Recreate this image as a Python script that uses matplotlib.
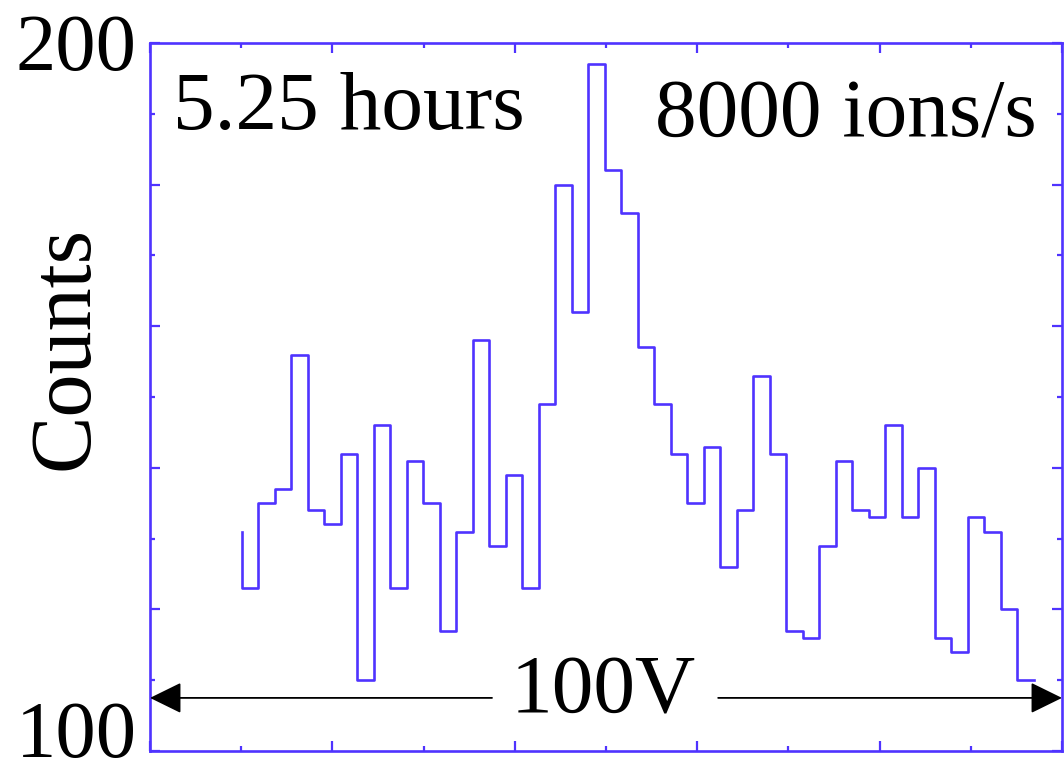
import numpy as np
import matplotlib
matplotlib.use("Agg")
import matplotlib.pyplot as plt
from matplotlib.ticker import MultipleLocator

# ---- data ----
bin_start = 10.05      # V, first bin edge
bin_width = 1.809      # V
counts = [131,
          123, 135, 137, 156, 134, 132, 142, 110, 146, 123, 141, 135,
          117, 131, 158, 129, 139, 123, 149, 180, 162, 197, 182, 176,
          157, 149, 142, 135, 143, 126, 134, 153, 142, 117, 116, 129,
          141, 134, 133, 146, 133, 140, 116, 114, 133, 131, 120, 110]
y_labels = ["100", "200"]
label_time = "5.25 hours"
label_rate = "8000 ions/s"
label_span = "100V"
ylabel = "Counts"

edges = bin_start + bin_width * np.arange(len(counts))

blue = "#4f33ff"
plt.rcParams['font.family'] = ['Liberation Serif', 'DejaVu Serif']

fig = plt.figure(figsize=(10.64, 7.73), dpi=100)
ax = fig.add_axes([150/1064, 1-751/773, 912/1064, 708/773])

ax.step(edges, counts, where='pre', color=blue, lw=1.9)

ax.set_xlim(0, 100)
ax.set_ylim(100, 200)

for s in ax.spines.values():
    s.set_color(blue)
    s.set_linewidth(1.9)

ax.xaxis.set_major_locator(MultipleLocator(20))
ax.xaxis.set_minor_locator(MultipleLocator(10))
ax.yaxis.set_major_locator(MultipleLocator(20))
ax.yaxis.set_minor_locator(MultipleLocator(10))
ax.tick_params(which='both', direction='in', colors=blue, top=True, right=True,
               labelbottom=False, labelleft=False, width=1.6)
ax.tick_params(which='major', length=7)
ax.tick_params(which='minor', length=3.5)

# y end labels (placed like the reference)
ax.text(-0.0143, (751-70)/708, y_labels[1], transform=ax.transAxes,
        ha='right', va='baseline', fontsize=58)
ax.text(-0.0143, (751-757)/708, y_labels[0], transform=ax.transAxes,
        ha='right', va='baseline', fontsize=58)

ax.text(-0.091, 0.569, ylabel, transform=ax.transAxes, rotation=90,
        ha='center', va='center', fontsize=62)

ax.text((173-150)/912, (751-129)/708, label_time, transform=ax.transAxes,
        ha='left', va='baseline', fontsize=60)
ax.text((1037-150)/912, (751-136)/708, label_rate, transform=ax.transAxes,
        ha='right', va='baseline', fontsize=60)

arrow_y = 107.5
ax.text(49.7, 105.5, label_span, ha='center', va='baseline', fontsize=60)
aprops = dict(arrowstyle='-|>,head_length=0.55,head_width=0.27', color='black',
              lw=1.3, shrinkA=0, shrinkB=0, mutation_scale=36)
ax.annotate('', xy=(0, arrow_y), xytext=(37.5, arrow_y), arrowprops=aprops,
            annotation_clip=False)
ax.annotate('', xy=(100, arrow_y), xytext=(62.3, arrow_y), arrowprops=aprops,
            annotation_clip=False)

fig.savefig("out.png", dpi=100)
